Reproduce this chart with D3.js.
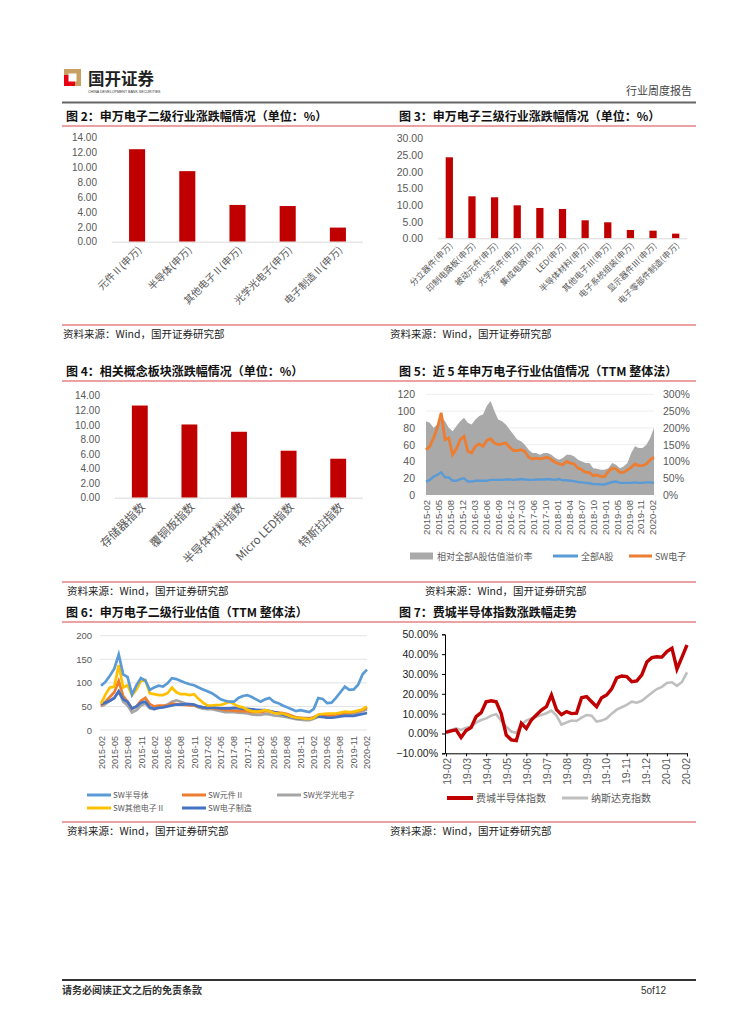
<!DOCTYPE html>
<html>
<head>
<meta charset="utf-8">
<script src="https://cdn.jsdelivr.net/npm/d3@7"></script>
<style>
  body { margin: 0; background: #fff; }
  text { font-family: "Liberation Sans", Arial, sans-serif; }
  .cjk { font-family: "Noto Sans CJK SC", sans-serif; }
</style>
</head>
<body>
<svg id="page" width="754" height="1024"></svg>
<script>
// ---- data ----
const fig2Cats = ["元件Ⅱ(申万)", "半导体(申万)", "其他电子Ⅱ(申万)", "光学光电子(申万)", "电子制造Ⅱ(申万)"];
const fig2Vals = [12.45, 9.5, 4.95, 4.8, 1.9];

const fig3Cats = ["分立器件(申万)", "印制电路板(申万)", "被动元件(申万)", "光学元件(申万)", "集成电路(申万)", "LED(申万)",
  "半导体材料(申万)", "其他电子Ⅲ(申万)", "电子系统组装(申万)", "显示器件Ⅲ(申万)", "电子零部件制造(申万)"];
const fig3Vals = [24.3, 12.6, 12.3, 9.9, 9.1, 8.8, 5.4, 4.8, 2.5, 2.3, 1.4];

const fig4Cats = ["存储器指数", "覆铜板指数", "半导体材料指数", "Micro LED指数", "特斯拉指数"];
const fig4Vals = [12.65, 10.05, 9.05, 6.45, 5.35];

const fig5Ticks = ["2015-02", "2015-05", "2015-08", "2015-12", "2016-03", "2016-06", "2016-09", "2016-12", "2017-03", "2017-06",
  "2017-10", "2018-01", "2018-04", "2018-07", "2018-10", "2019-01", "2019-05", "2019-08", "2019-11", "2020-02"];
// relative premium, %
const fig5Premium = [220, 215, 200, 210, 235, 220, 200, 190, 205, 220, 230, 215, 210, 225, 235, 240, 265, 280, 250, 225,
  220, 210, 195, 180, 165, 160, 150, 135, 125, 125, 120, 125, 125, 120, 110, 105, 110, 120, 120, 115,
  105, 100, 95, 95, 80, 78, 75, 75, 80, 95, 90, 80, 85, 95, 125, 145, 140, 140, 150, 170, 200];
const fig5AllA = [16, 18, 22, 24, 27, 21, 21, 17, 17, 19, 20, 16, 16, 17, 17, 17, 17, 18, 18, 18,
  18, 18.5, 18.5, 18, 18.5, 19, 18.5, 18, 18, 18.5, 18.5, 18.5, 19, 18.5, 18, 19, 17.5, 17.5, 17, 16.5,
  15.5, 15, 14.5, 14, 13, 13, 12.5, 12.5, 14, 15.5, 16, 14.5, 14.5, 14.5, 14.5, 15, 14.5, 14.5, 15, 15, 14.5];
const fig5SW = [54, 58, 68, 80, 98, 66, 68, 48, 55, 66, 70, 52, 50, 58, 61, 58, 65, 67, 62, 60,
  61, 62, 57, 53, 53, 54, 52, 45, 43, 44, 43, 44, 45, 42, 39, 37, 36, 40, 38, 37,
  32, 30, 27, 27, 23, 24, 22, 22, 28, 32, 31, 27, 27, 30, 33, 37, 35, 35, 37, 42, 45];

const fig6Ticks = ["2015-02", "2015-05", "2015-08", "2015-11", "2016-02", "2016-05", "2016-08", "2016-11", "2017-02", "2017-05",
  "2017-08", "2017-11", "2018-02", "2018-05", "2018-08", "2018-11", "2019-02", "2019-05", "2019-08", "2019-11", "2020-02"];
const fig6Semi = [94, 102, 115, 130, 160, 118, 112, 75, 95, 110, 105, 85, 90, 94, 92, 99, 110, 108, 104, 100,
  97, 95, 90, 86, 82, 78, 72, 65, 62, 60, 60, 68, 72, 74, 70, 65, 60, 65, 68, 60,
  57, 52, 48, 44, 40, 42, 40, 38, 45, 68, 66, 57, 58, 68, 80, 92, 85, 86, 96, 118, 128];
const fig6Comp = [52, 60, 70, 80, 104, 72, 60, 45, 50, 62, 68, 55, 50, 52, 52, 52, 56, 55, 54, 53,
  52, 52, 50, 48, 47, 47, 45, 44, 42, 42, 41, 40, 40, 40, 38, 38, 38, 40, 40, 38,
  37, 36, 34, 30, 27, 26, 25, 25, 27, 31, 32, 30, 31, 33, 34, 36, 37, 38, 40, 43, 47];
const fig6Opto = [50, 55, 62, 68, 82, 60, 52, 37, 42, 52, 56, 46, 44, 48, 50, 54, 60, 63, 60, 56,
  54, 52, 48, 45, 44, 44, 42, 40, 38, 38, 38, 37, 36, 35, 33, 32, 32, 34, 33, 31,
  30, 29, 27, 25, 23, 22, 21, 21, 24, 28, 28, 26, 27, 29, 31, 33, 34, 35, 37, 40, 44];
const fig6Other = [56, 75, 90, 92, 138, 90, 95, 74, 86, 104, 106, 78, 76, 74, 74, 78, 90, 80, 76, 76,
  74, 76, 66, 58, 52, 52, 53, 53, 56, 60, 55, 50, 48, 43, 40, 39, 40, 42, 40, 36,
  35, 35, 32, 28, 26, 25, 24, 23, 26, 33, 34, 35, 35, 35, 37, 39, 38, 39, 41, 44, 50];
const fig6Mfg = [55, 58, 62, 68, 82, 65, 60, 45, 50, 58, 60, 48, 45, 47, 48, 50, 52, 54, 54, 55,
  55, 54, 50, 48, 47, 48, 47, 46, 46, 46, 47, 46, 45, 45, 44, 43, 42, 42, 40, 38,
  36, 33, 30, 27, 25, 24, 24, 23, 26, 29, 28, 26, 26, 27, 29, 30, 30, 30, 32, 34, 36];

const fig7Ticks = ["19-02", "19-03", "19-04", "19-05", "19-06", "19-07", "19-08", "19-09", "19-10", "19-11", "19-12", "20-01", "20-02"];
const fig7Sox = [0.5, 1.3, 1.8, -2.0, 1.5, 3.0, 8.5, 10.5, 16.0, 16.5, 16.0, 10.0, -0.8, -3.2, -3.6, 5.1, 2.5, 6.8, 9.3, 11.8,
  13.5, 19.4, 12.0, 9.5, 11.0, 10.0, 10.2, 18.0, 18.6, 16.0, 13.5, 18.0, 19.4, 22.5, 28.0, 29.0, 28.7, 26.1, 26.5, 29.5,
  36.0, 38.2, 38.7, 38.5, 41.3, 43.0, 32.5, 38.5, 44.6];
const fig7Nasdaq = [0.9, 1.8, 2.6, 1.8, 2.9, 3.4, 5.5, 6.8, 7.6, 9.0, 9.7, 6.5, 3.4, 1.0, 0.3, 4.5, 6.5, 7.6, 8.5, 9.3,
  10.2, 11.5, 9.0, 4.5, 5.5, 6.5, 6.3, 8.0, 9.3, 9.0, 6.0, 6.5, 7.6, 10.0, 12.0, 13.2, 14.4, 16.0, 15.5, 16.5,
  18.5, 20.5, 22.4, 23.5, 25.5, 25.8, 24.0, 26.0, 30.8];

const svg = d3.select("#page");
const RED = "#C00000";
const LABEL = "#595959";
const SOURCE = "资料来源：Wind，国开证券研究部";

// ---- page furniture ----
svg.append("rect").attr("x", 64).attr("y", 69).attr("width", 17).attr("height", 17).attr("fill", "#C9A063");
svg.append("rect").attr("x", 64).attr("y", 75).attr("width", 11).attr("height", 11).attr("fill", "#E60012");
svg.append("rect").attr("x", 68.5).attr("y", 73.5).attr("width", 8).attr("height", 8).attr("fill", "#fff");
svg.append("text").attr("class", "cjk").attr("x", 88).attr("y", 85).attr("font-size", 16.5)
  .attr("font-weight", "bold").attr("fill", "#222").text("国开证券");
svg.append("text").attr("x", 88).attr("y", 93).attr("font-size", 3.6).attr("fill", "#333")
  .text("CHINA DEVELOPMENT BANK SECURITIES");
svg.append("text").attr("class", "cjk").attr("x", 692).attr("y", 95).attr("text-anchor", "end")
  .attr("font-size", 11).attr("fill", "#444").text("行业周度报告");
svg.append("line").attr("x1", 62).attr("x2", 696).attr("y1", 102.5).attr("y2", 102.5)
  .attr("stroke", "#666").attr("stroke-width", 2);

svg.append("line").attr("x1", 62).attr("x2", 696).attr("y1", 980).attr("y2", 980)
  .attr("stroke", "#333").attr("stroke-width", 2);
svg.append("text").attr("class", "cjk").attr("x", 62).attr("y", 994).attr("font-size", 10)
  .attr("font-weight", "bold").attr("fill", "#333").text("请务必阅读正文之后的免责条款");
svg.append("text").attr("x", 641).attr("y", 994).attr("font-size", 10).attr("fill", "#333")
  .attr("font-family", "Liberation Serif").text("5of12");

function title(x, y, str) {
  svg.append("text").attr("class", "cjk").attr("x", x).attr("y", y).attr("font-size", 12)
    .attr("font-weight", "bold").attr("fill", "#111").text(str);
}
function redRule(x1, x2, y) {
  svg.append("line").attr("x1", x1).attr("x2", x2).attr("y1", y).attr("y2", y)
    .attr("stroke", "#D9444A").attr("stroke-width", 1);
}
function source(x, y) {
  svg.append("text").attr("class", "cjk").attr("x", x).attr("y", y).attr("font-size", 10.5)
    .attr("fill", "#222").text(SOURCE);
}

title(66, 121, "图 2：申万电子二级行业涨跌幅情况（单位：%）");
title(399, 121, "图 3：申万电子三级行业涨跌幅情况（单位：%）");
redRule(62, 696, 126);
redRule(62, 696, 325);
source(63, 338);
source(390, 338);

title(66, 376, "图 4：相关概念板块涨跌幅情况（单位：%）");
title(399, 376, "图 5：近 5 年申万电子行业估值情况（TTM 整体法）");
redRule(62, 696, 381);
redRule(62, 696, 582);
source(67, 595);
source(425, 595);

title(66, 617, "图 6：申万电子二级行业估值（TTM 整体法）");
title(399, 617, "图 7：费城半导体指数涨跌幅走势");
redRule(62, 696, 622);
redRule(62, 696, 822);
source(67, 835);
source(390, 835);

// ---- bar charts ----
function barChart(o) {
  const x = d3.scaleBand().domain(o.cats).range([o.x0, o.x1]).paddingInner(0.68).paddingOuter(0.34);
  const y = d3.scaleLinear().domain([0, o.max]).range([o.yb, o.yt]);
  const g = svg.append("g");
  g.append("g")
    .attr("transform", `translate(${o.x0 - 12},0)`)
    .call(d3.axisLeft(y).tickValues(d3.range(0, o.max + 0.001, o.step)).tickFormat(d3.format(".2f")).tickSize(0))
    .call(g => g.select(".domain").remove())
    .call(g => g.selectAll("text").attr("fill", LABEL).attr("font-size", o.tickSize)
      .attr("font-family", "Liberation Sans"));
  g.append("g").selectAll("rect").data(o.vals).join("rect")
    .attr("x", (d, i) => x(o.cats[i]))
    .attr("y", d => y(d))
    .attr("width", x.bandwidth())
    .attr("height", d => y(0) - y(d))
    .attr("fill", RED);
  g.append("line").attr("x1", o.x0).attr("x2", o.x1).attr("y1", y(0) + 0.5).attr("y2", y(0) + 0.5)
    .attr("stroke", "#D9D9D9");
  g.append("g").selectAll("text").data(o.cats).join("text")
    .attr("class", "cjk")
    .attr("transform", d => `translate(${x(d) + x.bandwidth() / 2 + o.lx},${y(0) + o.ly}) rotate(-45)`)
    .attr("text-anchor", "end")
    .attr("font-size", o.labelSize)
    .attr("fill", LABEL)
    .text(d => d);
}

barChart({ cats: fig2Cats, vals: fig2Vals, x0: 112, x1: 363, yt: 137.7, yb: 241.7, max: 14, step: 2,
  tickSize: 10, labelSize: 10, lx: 5, ly: 9 });
barChart({ cats: fig3Cats, vals: fig3Vals, x0: 438, x1: 687, yt: 138.3, yb: 238.3, max: 30, step: 5,
  tickSize: 10.5, labelSize: 8.5, lx: 4, ly: 8 });
barChart({ cats: fig4Cats, vals: fig4Vals, x0: 115, x1: 363, yt: 395.7, yb: 497.7, max: 14, step: 2,
  tickSize: 10, labelSize: 11.5, lx: 6, ly: 10 });

// ---- line chart helper ----
function xTicks(g, ticks, x0, x1, yTop, size) {
  const px = d3.scalePoint().domain(ticks).range([x0, x1]);
  g.append("g").selectAll("text").data(ticks).join("text")
    .attr("transform", d => `translate(${px(d) + size * 0.35},${yTop}) rotate(-90)`)
    .attr("text-anchor", "end")
    .attr("font-size", size)
    .attr("fill", LABEL)
    .text(d => d);
}

// ---- fig 5 ----
{
  const g = svg.append("g");
  const x0 = 426, x1 = 654;
  const x = d3.scaleLinear().domain([0, fig5SW.length - 1]).range([x0, x1]);
  const yL = d3.scaleLinear().domain([0, 120]).range([495, 394.3]);
  const yR = d3.scaleLinear().domain([0, 300]).range([495, 394.3]);
  g.append("g").selectAll("line").data(d3.range(20, 121, 20)).join("line")
    .attr("x1", x0).attr("x2", x1).attr("y1", d => yL(d)).attr("y2", d => yL(d))
    .attr("stroke", "#EEEEEE");
  g.append("path").datum(fig5Premium)
    .attr("d", d3.area().x((d, i) => x(i)).y0(yR(0)).y1(d => yR(d)))
    .attr("fill", "#A9A9A9");
  g.append("path").datum(fig5AllA)
    .attr("d", d3.line().x((d, i) => x(i)).y(d => yL(d)))
    .attr("fill", "none").attr("stroke", "#5B9BD5").attr("stroke-width", 2.4);
  g.append("path").datum(fig5SW)
    .attr("d", d3.line().x((d, i) => x(i)).y(d => yL(d)))
    .attr("fill", "none").attr("stroke", "#ED7D31").attr("stroke-width", 2.8);
  g.append("g").attr("transform", `translate(${x0 - 8},0)`)
    .call(d3.axisLeft(yL).tickValues(d3.range(0, 121, 20)).tickSize(0))
    .call(g => g.select(".domain").remove())
    .call(g => g.selectAll("text").attr("fill", LABEL).attr("font-size", 10.5).attr("font-family", "Liberation Sans"));
  g.append("g").attr("transform", `translate(${x1 + 6},0)`)
    .call(d3.axisRight(yR).tickValues(d3.range(0, 301, 50)).tickFormat(d => d + "%").tickSize(0))
    .call(g => g.select(".domain").remove())
    .call(g => g.selectAll("text").attr("fill", LABEL).attr("font-size", 10.5).attr("font-family", "Liberation Sans"));
  xTicks(g, fig5Ticks, 427, 653, 500, 9.5);
  const ly = 556;
  g.append("rect").attr("x", 410).attr("y", ly - 3.5).attr("width", 23).attr("height", 7).attr("fill", "#A9A9A9");
  g.append("text").attr("class", "cjk").attr("x", 437).attr("y", ly + 3.5).attr("font-size", 9).attr("fill", LABEL).text("相对全部A股估值溢价率");
  g.append("line").attr("x1", 553).attr("x2", 578).attr("y1", ly).attr("y2", ly).attr("stroke", "#5B9BD5").attr("stroke-width", 3);
  g.append("text").attr("class", "cjk").attr("x", 581).attr("y", ly + 3.5).attr("font-size", 9).attr("fill", LABEL).text("全部A股");
  g.append("line").attr("x1", 629).attr("x2", 652).attr("y1", ly).attr("y2", ly).attr("stroke", "#ED7D31").attr("stroke-width", 3);
  g.append("text").attr("class", "cjk").attr("x", 655).attr("y", ly + 3.5).attr("font-size", 9).attr("fill", LABEL).text("SW电子");
}

// ---- fig 6 ----
{
  const g = svg.append("g");
  const x0 = 101, x1 = 367;
  const x = d3.scaleLinear().domain([0, fig6Semi.length - 1]).range([x0, x1]);
  const y = d3.scaleLinear().domain([0, 200]).range([730, 635.7]);
  g.append("g").selectAll("line").data(d3.range(0, 201, 50)).join("line")
    .attr("x1", 100).attr("x2", 367).attr("y1", d => y(d)).attr("y2", d => y(d))
    .attr("stroke", "#E3E3E3");
  g.append("g").attr("transform", `translate(92,0)`)
    .call(d3.axisLeft(y).tickValues(d3.range(0, 201, 50)).tickSize(0).tickPadding(0))
    .call(g => g.select(".domain").remove())
    .call(g => g.selectAll("text").attr("fill", LABEL).attr("font-size", 9.5).attr("font-family", "Liberation Sans"));
  const series = [
    { name: "SW光学光电子", vals: fig6Opto, color: "#A5A5A5" },
    { name: "SW元件Ⅱ", vals: fig6Comp, color: "#ED7D31" },
    { name: "SW电子制造", vals: fig6Mfg, color: "#4472C4" },
    { name: "SW其他电子Ⅱ", vals: fig6Other, color: "#FFC000" },
    { name: "SW半导体", vals: fig6Semi, color: "#5B9BD5" }
  ];
  const line = d3.line().x((d, i) => x(i)).y(d => y(d));
  g.append("g").selectAll("path").data(series).join("path")
    .attr("d", d => line(d.vals))
    .attr("fill", "none").attr("stroke", d => d.color).attr("stroke-width", 2.7);
  xTicks(g, fig6Ticks, 101.7, 366.7, 736, 9);
  const legend = [
    { name: "SW半导体", color: "#5B9BD5", x: 87, y: 795 },
    { name: "SW元件Ⅱ", color: "#ED7D31", x: 182, y: 795 },
    { name: "SW光学光电子", color: "#A5A5A5", x: 277, y: 795 },
    { name: "SW其他电子Ⅱ", color: "#FFC000", x: 87, y: 808 },
    { name: "SW电子制造", color: "#4472C4", x: 182, y: 808 }
  ];
  const lg = g.append("g").selectAll("g").data(legend).join("g")
    .attr("transform", d => `translate(${d.x},${d.y})`);
  lg.append("line").attr("x1", 0).attr("x2", 24).attr("stroke", d => d.color).attr("stroke-width", 3);
  lg.append("text").attr("class", "cjk").attr("x", 26).attr("y", 3).attr("font-size", 8).attr("fill", LABEL).text(d => d.name);
}

// ---- fig 7 ----
{
  const g = svg.append("g");
  const x0 = 446, x1 = 687;
  const x = d3.scaleLinear().domain([0, fig7Sox.length - 1]).range([x0, x1]);
  const y = d3.scaleLinear().domain([-10, 50]).range([753.3, 634.3]);
  const line = d3.line().x((d, i) => x(i)).y(d => y(d));
  g.append("path").datum(fig7Nasdaq).attr("d", line)
    .attr("fill", "none").attr("stroke", "#BFBFBF").attr("stroke-width", 2.6);
  g.append("path").datum(fig7Sox).attr("d", line)
    .attr("fill", "none").attr("stroke", RED).attr("stroke-width", 3.4);
  g.append("g").attr("transform", `translate(445,0)`)
    .call(d3.axisLeft(y).tickValues(d3.range(-10, 51, 10)).tickFormat(d => d3.format(".2f")(d) + "%").tickSize(3).tickPadding(4))
    .call(g => g.select(".domain").attr("stroke", "#000"))
    .call(g => g.selectAll("text").attr("fill", "#222").attr("font-size", 10.5).attr("font-family", "Liberation Sans"));
  const px = d3.scalePoint().domain(fig7Ticks).range([x0, x1]);
  g.append("g").attr("transform", `translate(0,${y(-10)})`)
    .call(d3.axisBottom(px).tickSize(3).tickFormat(""))
    .call(g => g.selectAll("path,line").attr("stroke", "#000"));
  xTicks(g, fig7Ticks, 447, 686.7, 758, 10.5);
  g.append("line").attr("x1", 447).attr("x2", 473).attr("y1", 798).attr("y2", 798).attr("stroke", RED).attr("stroke-width", 4);
  g.append("text").attr("class", "cjk").attr("x", 476).attr("y", 801.5).attr("font-size", 10).attr("fill", LABEL).text("费城半导体指数");
  g.append("line").attr("x1", 562).attr("x2", 588).attr("y1", 798).attr("y2", 798).attr("stroke", "#BFBFBF").attr("stroke-width", 3);
  g.append("text").attr("class", "cjk").attr("x", 591).attr("y", 801.5).attr("font-size", 10).attr("fill", LABEL).text("纳斯达克指数");
}
</script>
</body>
</html>
